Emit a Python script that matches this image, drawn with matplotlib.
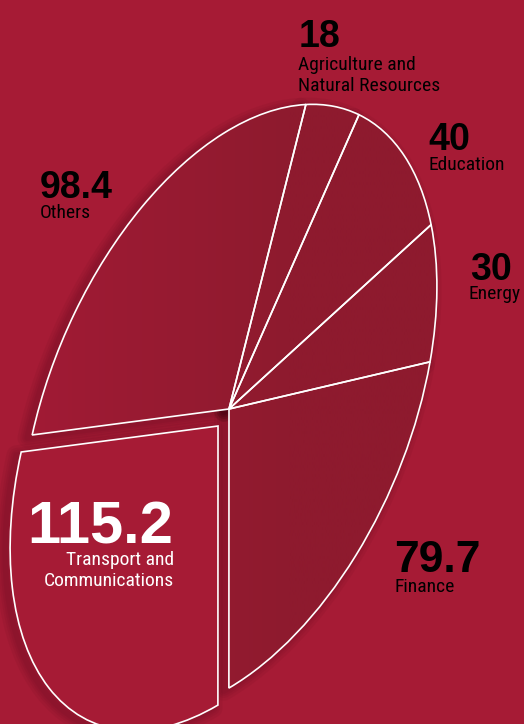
import numpy as np
import matplotlib
matplotlib.use("Agg")
import matplotlib.pyplot as plt
from matplotlib.transforms import Affine2D
from matplotlib.patches import PathPatch
from matplotlib.colors import LinearSegmentedColormap

sectors = ["Agriculture and\nNatural Resources", "Education", "Energy", "Finance",
           "Transport and\nCommunications", "Others"]
values = [18, 40, 30, 79.7, 115.2, 98.4]
value_labels = ["18", "40", "30", "79.7", "115.2", "98.4"]
explode = [0, 0, 0, 0, 0.065, 0]

BG = "#A61B35"
SLICE = "#8E1A2E"
LABEL_FONT = ["Roboto Condensed", "Liberation Sans"]
NUM_FONT = ["Liberation Sans", "DejaVu Sans"]

fig = plt.figure(figsize=(5.24, 7.24), dpi=100, facecolor=BG)
ax = fig.add_axes([0, 0, 1, 1])
ax.set_facecolor(BG)

colors = [SLICE] * 4 + [BG] + [SLICE]
wedges, _ = ax.pie(values, explode=explode, startangle=68.3, counterclock=False,
                   colors=colors, wedgeprops=dict(linewidth=0))

# shear the round pie into the tilted ellipse of the original (pixel coords, y down)
M = np.array([[207.9, 0, 229], [-122.4, -279, 409], [0, 0, 1]])
tilt = Affine2D(M) + ax.transData
shadow_tf = Affine2D(M).translate(-5, 3) + ax.transData

# soft shadow falling to the left
for w in wedges:
    for lw in [14, 10, 7, 4]:
        ax.add_patch(PathPatch(w.get_path(), transform=shadow_tf, facecolor="none",
                               edgecolor="#3a0510", lw=lw, alpha=0.06, zorder=1,
                               joinstyle="round"))

for w in wedges:
    w.set_transform(tilt)
    w.set_zorder(2)

# left-to-right darkening across the slices that stay in place
grad = LinearSegmentedColormap.from_list("g", ["#A11B35", SLICE])
xs = np.clip((np.linspace(0, 524, 300) - 30) / 260, 0, 1)
for i, w in enumerate(wedges):
    if explode[i]:
        continue
    im = ax.imshow(xs[None, :], cmap=grad, vmin=0, vmax=1, extent=[0, 524, 724, 0],
                   interpolation="bilinear", zorder=3)
    im.set_clip_path(w)

for w in wedges:
    ax.add_patch(PathPatch(w.get_path(), transform=tilt, facecolor="none",
                           edgecolor="white", lw=1.2, zorder=4, joinstyle="miter"))

ax.set_xlim(0, 524)
ax.set_ylim(724, 0)
ax.set_aspect("auto")
ax.axis("off")

num_pos = [(299, 47), (428, 150), (470, 280), (394, 572), (173, 543), (40, 198)]
lab_pos = [(298, 70), (428, 170), (469, 299), (394, 592), (174, 565), (40, 218)]
num_size = [27, 27, 27, 32, 43, 27]

for i in range(len(values)):
    white = explode[i] > 0
    ha = "right" if white else "left"
    col = "white" if white else "black"
    ax.text(num_pos[i][0], num_pos[i][1], value_labels[i], ha=ha, va="baseline",
            fontsize=num_size[i], fontweight="bold", family=NUM_FONT,
            color=col, zorder=5)
    for j, line in enumerate(sectors[i].split("\n")):
        ax.text(lab_pos[i][0], lab_pos[i][1] + 21 * j, line, ha=ha, va="baseline",
                fontsize=14, family=LABEL_FONT, color=col, zorder=5)

fig.savefig("out.png", dpi=100, facecolor=BG)
